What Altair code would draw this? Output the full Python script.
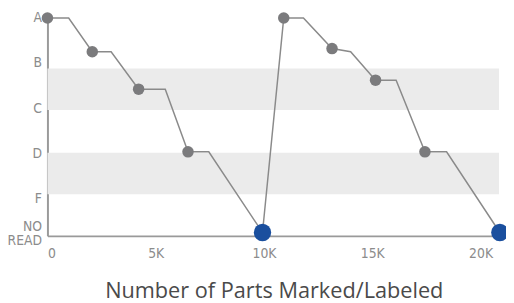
import altair as alt
import pandas as pd

# Line path (parts marked, grade score)
line_x = [0, 980, 2070, 2940, 4210, 5440, 6490, 7450, 9930,
          10910, 11820, 13140, 14000, 15150, 16100, 17430, 18430, 20890]
line_y = [4.0, 4.0, 3.25, 3.25, 2.42, 2.42, 1.03, 1.03, -0.76,
          4.0, 4.0, 3.32, 3.25, 2.62, 2.62, 1.03, 1.03, -0.76]

# Gray sample points
dot_x = [0, 2070, 4210, 6490, 10910, 13140, 15150, 17430]
dot_y = [4.0, 3.25, 2.42, 1.03, 4.0, 3.32, 2.62, 1.03]

# Blue "no read" points
nr_x = [9930, 20890]
nr_y = [-0.76, -0.76]

# Shaded grade bands
band_lo = [1.96, 0.09]
band_hi = [2.88, 1.01]
band_x0 = [0, 0]
band_x1 = [20850, 20850]

x_ticks = [0, 5000, 10000, 15000, 20000]
y_ticks = [4, 3, 2, 1, 0, -0.62]

line_df = pd.DataFrame({"x": line_x, "y": line_y, "i": list(range(len(line_x)))})
dot_df = pd.DataFrame({"x": dot_x, "y": dot_y})
nr_df = pd.DataFrame({"x": nr_x, "y": nr_y})
band_df = pd.DataFrame({"x0": band_x0, "x1": band_x1, "lo": band_lo, "hi": band_hi})

lab_font = "'DejaVu Sans Condensed', 'DejaVu Sans Mono', monospace"
xs = alt.Scale(domain=[0, 20900], nice=False, zero=False)
ys = alt.Scale(domain=[-0.835, 4.088], nice=False, zero=False)

x_axis = alt.Axis(
    values=x_ticks, ticks=False, grid=False, domainColor="#9a9a9a", domainWidth=2,
    labelExpr="datum.value == 0 ? '0' : (datum.value/1000) + 'K'",
    labelFont=lab_font, labelFontSize=14, labelColor="#8c8c8c", labelPadding=11,
    title="Number of Parts Marked/Labeled", titleFont="Open Sans", titleFontSize=22,
    titleFontWeight="normal", titleColor="#4a4a4a", titleY=62, titleBaseline="alphabetic",
)
y_axis = alt.Axis(
    values=y_ticks, ticks=False, grid=False, domainColor="#9a9a9a", domainWidth=2,
    labelExpr="datum.value > 3.5 ? 'A' : datum.value > 2.5 ? 'B' : datum.value > 1.5 ? 'C' : datum.value > 0.5 ? 'D' : datum.value > -0.3 ? 'F' : ['NO', 'READ']",
    labelFont=lab_font, labelFontSize=14, labelColor="#8c8c8c", labelPadding=6,
    labelLineHeight=15, labelBaseline="middle", title=None,
)

bands = alt.Chart(band_df).mark_rect(color="#ebebeb").encode(
    x=alt.X("x0:Q", scale=xs, axis=x_axis), x2="x1:Q",
    y=alt.Y("lo:Q", scale=ys, axis=y_axis), y2="hi:Q",
)
line = alt.Chart(line_df).mark_line(color="#8a8a8a", strokeWidth=1.5).encode(
    x=alt.X("x:Q", scale=xs), y=alt.Y("y:Q", scale=ys), order="i:Q"
)
dots = alt.Chart(dot_df).mark_circle(color="#7b7b7d", opacity=1, size=136).encode(
    x=alt.X("x:Q", scale=xs), y=alt.Y("y:Q", scale=ys)
)
nr = alt.Chart(nr_df).mark_circle(color="#1a4f9e", opacity=1, size=310).encode(
    x=alt.X("x:Q", scale=xs), y=alt.Y("y:Q", scale=ys)
)

chart = alt.layer(bands, line, dots, nr).properties(
    width=459, height=225,
    autosize=alt.AutoSizeParams(type="none"),
    padding={"left": 40, "top": 4, "right": 6, "bottom": 66},
).configure_view(stroke=None)

chart.save("out.html", embed_options={"renderer": "svg", "actions": False})
